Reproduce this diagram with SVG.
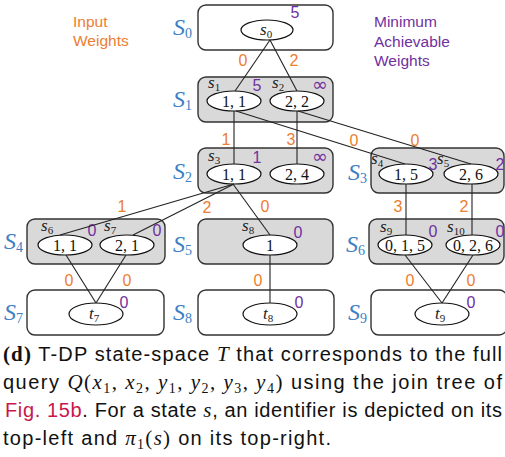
<svg xmlns="http://www.w3.org/2000/svg" width="505" height="457" viewBox="0 0 505 457">
<style>
.box{stroke:#333;stroke-width:1.4;}
.w{fill:#fff;}
.g{fill:#d9d9d9;}
.el{fill:#fff;stroke:#111;stroke-width:1.2;}
.cn line{stroke:#222;stroke-width:1.1;}
.S{font-family:"Liberation Serif",serif;font-style:italic;font-size:24px;fill:#3d80c4;}
.Ssub{font-style:normal;font-size:14px;}
.st{font-family:"Liberation Serif",serif;font-style:italic;font-size:17px;fill:#222;}
.ss{font-style:normal;font-size:11px;}
.v{font-family:"Liberation Serif",serif;font-size:16px;fill:#111;text-anchor:middle;}
.iw{font-family:"Liberation Sans",sans-serif;font-size:16px;fill:#ed7d31;text-anchor:middle;}
.mw{font-family:"Liberation Sans",sans-serif;font-size:16px;fill:#7030a0;text-anchor:middle;}
.inf{font-family:"DejaVu Sans",sans-serif;font-size:19px;}
.lo{font-family:"Liberation Sans",sans-serif;font-size:15.5px;fill:#ed7d31;}
.lp{font-family:"Liberation Sans",sans-serif;font-size:15.5px;fill:#7030a0;}
.cap{font-family:"Liberation Sans",sans-serif;font-size:20px;fill:#111;}
.m{font-family:"Liberation Serif",serif;font-style:italic;font-size:21px;}
.mr{font-family:"Liberation Serif",serif;font-size:21px;}
.sb{font-family:"Liberation Serif",serif;font-size:14px;}
</style>

<g id="legend">
<text class="lo" x="73" y="27">Input</text>
<text class="lo" x="73" y="46">Weights</text>
<text class="lp" x="374" y="27">Minimum</text>
<text class="lp" x="374" y="47">Achievable</text>
<text class="lp" x="374" y="66">Weights</text>
</g>

<g id="S0">
<rect class="box w" x="198" y="5" width="135" height="45" rx="8"/>
<text class="S" x="173" y="35">S<tspan class="Ssub" dy="3">0</tspan></text>
<ellipse class="el" cx="267" cy="30" rx="26" ry="10"/>
<text class="st" x="260" y="35">s<tspan class="ss" dy="3">0</tspan></text>
<text class="mw" x="295" y="18">5</text>
</g>

<g id="S1">
<rect class="box g" x="198" y="77" width="135" height="45" rx="8"/>
<text class="S" x="173" y="107">S<tspan class="Ssub" dy="3">1</tspan></text>
<ellipse class="el" cx="234" cy="101" rx="27" ry="10"/>
<ellipse class="el" cx="297" cy="101" rx="27" ry="10"/>
<text class="v" x="234" y="106.5">1, 1</text>
<text class="v" x="297" y="106.5">2, 2</text>
<text class="st" x="208" y="88">s<tspan class="ss" dy="3">1</tspan></text>
<text class="st" x="272" y="88">s<tspan class="ss" dy="3">2</tspan></text>
<text class="mw" x="257" y="91">5</text>
<text class="mw inf" x="320" y="91">∞</text>
</g>

<g id="S2">
<rect class="box g" x="198" y="148" width="135" height="45" rx="8"/>
<text class="S" x="173" y="179">S<tspan class="Ssub" dy="3">2</tspan></text>
<ellipse class="el" cx="234" cy="174" rx="27" ry="10"/>
<ellipse class="el" cx="297" cy="174" rx="27" ry="10"/>
<text class="v" x="234" y="179.5">1, 1</text>
<text class="v" x="297" y="179.5">2, 4</text>
<text class="st" x="208" y="161">s<tspan class="ss" dy="3">3</tspan></text>
<text class="mw" x="257" y="163">1</text>
<text class="mw inf" x="320" y="163">∞</text>
</g>

<g id="S3">
<rect class="box g" x="371" y="148" width="133" height="45" rx="8"/>
<text class="S" x="348" y="180">S<tspan class="Ssub" dy="3">3</tspan></text>
<ellipse class="el" cx="406" cy="174" rx="27" ry="10"/>
<ellipse class="el" cx="471" cy="174" rx="27" ry="10"/>
<text class="v" x="406" y="179.5">1, 5</text>
<text class="v" x="471" y="179.5">2, 6</text>
<text class="st" x="371" y="164">s<tspan class="ss" dy="3">4</tspan></text>
<text class="st" x="437" y="164">s<tspan class="ss" dy="3">5</tspan></text>
<text class="mw" x="433" y="170">3</text>
<text class="mw" x="500" y="170">2</text>
</g>

<g id="S4">
<rect class="box g" x="27" y="219" width="138" height="45" rx="8"/>
<text class="S" x="4" y="249">S<tspan class="Ssub" dy="3">4</tspan></text>
<ellipse class="el" cx="65" cy="245" rx="27" ry="10"/>
<ellipse class="el" cx="127" cy="245" rx="27" ry="10"/>
<text class="v" x="65" y="250.5">1, 1</text>
<text class="v" x="127" y="250.5">2, 1</text>
<text class="st" x="41" y="231">s<tspan class="ss" dy="3">6</tspan></text>
<text class="st" x="104" y="231">s<tspan class="ss" dy="3">7</tspan></text>
<text class="mw" x="92" y="236">0</text>
<text class="mw" x="157" y="236">0</text>
</g>

<g id="S5">
<rect class="box g" x="198" y="219" width="135" height="45" rx="8"/>
<text class="S" x="173" y="252">S<tspan class="Ssub" dy="3">5</tspan></text>
<ellipse class="el" cx="270" cy="245" rx="27" ry="10"/>
<text class="v" x="270" y="250.5">1</text>
<text class="st" x="242" y="231">s<tspan class="ss" dy="3">8</tspan></text>
<text class="mw" x="298" y="238">0</text>
</g>

<g id="S6">
<rect class="box g" x="369" y="219" width="135" height="45" rx="8"/>
<text class="S" x="346" y="252">S<tspan class="Ssub" dy="3">6</tspan></text>
<ellipse class="el" cx="405" cy="245" rx="27" ry="10"/>
<ellipse class="el" cx="473" cy="245" rx="27" ry="10"/>
<text class="v" x="405" y="250.5">0, 1, 5</text>
<text class="v" x="473" y="250.5">0, 2, 6</text>
<text class="st" x="380" y="232">s<tspan class="ss" dy="3">9</tspan></text>
<text class="st" x="447" y="232">s<tspan class="ss" dy="3">10</tspan></text>
<text class="mw" x="433" y="237">0</text>
<text class="mw" x="500" y="237">0</text>
</g>

<g id="S7">
<rect class="box w" x="27" y="290" width="137" height="45" rx="8"/>
<text class="S" x="4" y="320">S<tspan class="Ssub" dy="3">7</tspan></text>
<ellipse class="el" cx="96" cy="314" rx="27" ry="11"/>
<text class="st" x="89" y="319">t<tspan class="ss" dy="3">7</tspan></text>
<text class="mw" x="124" y="308">0</text>
</g>

<g id="S8">
<rect class="box w" x="198" y="290" width="136" height="45" rx="8"/>
<text class="S" x="173" y="320">S<tspan class="Ssub" dy="3">8</tspan></text>
<ellipse class="el" cx="270" cy="314" rx="27" ry="11"/>
<text class="st" x="263" y="319">t<tspan class="ss" dy="3">8</tspan></text>
<text class="mw" x="299" y="308">0</text>
</g>

<g id="S9">
<rect class="box w" x="371" y="290" width="136" height="45" rx="8"/>
<text class="S" x="348" y="320">S<tspan class="Ssub" dy="3">9</tspan></text>
<ellipse class="el" cx="442" cy="314" rx="27" ry="11"/>
<text class="st" x="435" y="319">t<tspan class="ss" dy="3">9</tspan></text>
<text class="mw" x="471" y="308">0</text>
</g>

<g id="connectors" class="cn">
<line x1="270" y1="40" x2="235" y2="91"/>
<line x1="270" y1="40" x2="297" y2="91"/>
<line x1="234" y1="111" x2="234" y2="164"/>
<line x1="236" y1="111" x2="405" y2="164"/>
<line x1="297" y1="111" x2="297" y2="164"/>
<line x1="298" y1="111" x2="471" y2="164"/>
<line x1="234" y1="184" x2="60" y2="235"/>
<line x1="234" y1="184" x2="133" y2="235"/>
<line x1="233" y1="184" x2="270" y2="235"/>
<line x1="406" y1="184" x2="406" y2="235"/>
<line x1="472" y1="184" x2="472" y2="235"/>
<line x1="66" y1="255" x2="96" y2="303"/>
<line x1="126" y1="255" x2="96" y2="303"/>
<line x1="270" y1="255" x2="270" y2="303"/>
<line x1="405" y1="255" x2="442" y2="303"/>
<line x1="473" y1="255" x2="442" y2="303"/>
</g>

<g id="weights">
<text class="iw" x="243" y="66">0</text>
<text class="iw" x="294" y="66">2</text>
<text class="iw" x="226" y="145">1</text>
<text class="iw" x="291" y="145">3</text>
<text class="iw" x="354" y="146">0</text>
<text class="iw" x="415" y="146">0</text>
<text class="iw" x="122" y="212">1</text>
<text class="iw" x="207" y="213">2</text>
<text class="iw" x="265" y="212">0</text>
<text class="iw" x="398" y="212">3</text>
<text class="iw" x="464" y="212">2</text>
<text class="iw" x="69" y="286">0</text>
<text class="iw" x="127" y="286">0</text>
<text class="iw" x="258" y="286">0</text>
<text class="iw" x="410" y="286">0</text>
<text class="iw" x="471" y="286">0</text>
</g>

<g id="caption" class="cap">
<text x="3" y="361" textLength="499" lengthAdjust="spacing"><tspan font-family="Liberation Serif, serif" font-weight="bold" font-size="21">(d)</tspan> T-DP state-space <tspan class="m">T</tspan> that corresponds to the full</text>
<text x="3" y="389" textLength="499" lengthAdjust="spacing">query <tspan class="m">Q</tspan><tspan class="mr">(</tspan><tspan class="m">x</tspan><tspan class="sb" dy="4">1</tspan><tspan class="mr" dy="-4">, </tspan><tspan class="m">x</tspan><tspan class="sb" dy="4">2</tspan><tspan class="mr" dy="-4">, </tspan><tspan class="m">y</tspan><tspan class="sb" dy="4">1</tspan><tspan class="mr" dy="-4">, </tspan><tspan class="m">y</tspan><tspan class="sb" dy="4">2</tspan><tspan class="mr" dy="-4">, </tspan><tspan class="m">y</tspan><tspan class="sb" dy="4">3</tspan><tspan class="mr" dy="-4">, </tspan><tspan class="m">y</tspan><tspan class="sb" dy="4">4</tspan><tspan class="mr" dy="-4">)</tspan> using the join tree of</text>
<text x="5" y="417" textLength="497" lengthAdjust="spacing"><tspan fill="#c8174c">Fig. 15b</tspan>. For a state <tspan class="m">s</tspan>, an identifier is depicted on its</text>
<text x="3" y="445" textLength="328" lengthAdjust="spacing">top-left and <tspan class="m">π</tspan><tspan class="sb" dy="4">1</tspan><tspan class="mr" dy="-4">(</tspan><tspan class="m">s</tspan><tspan class="mr">)</tspan> on its top-right.</text>
</g>
</svg>
